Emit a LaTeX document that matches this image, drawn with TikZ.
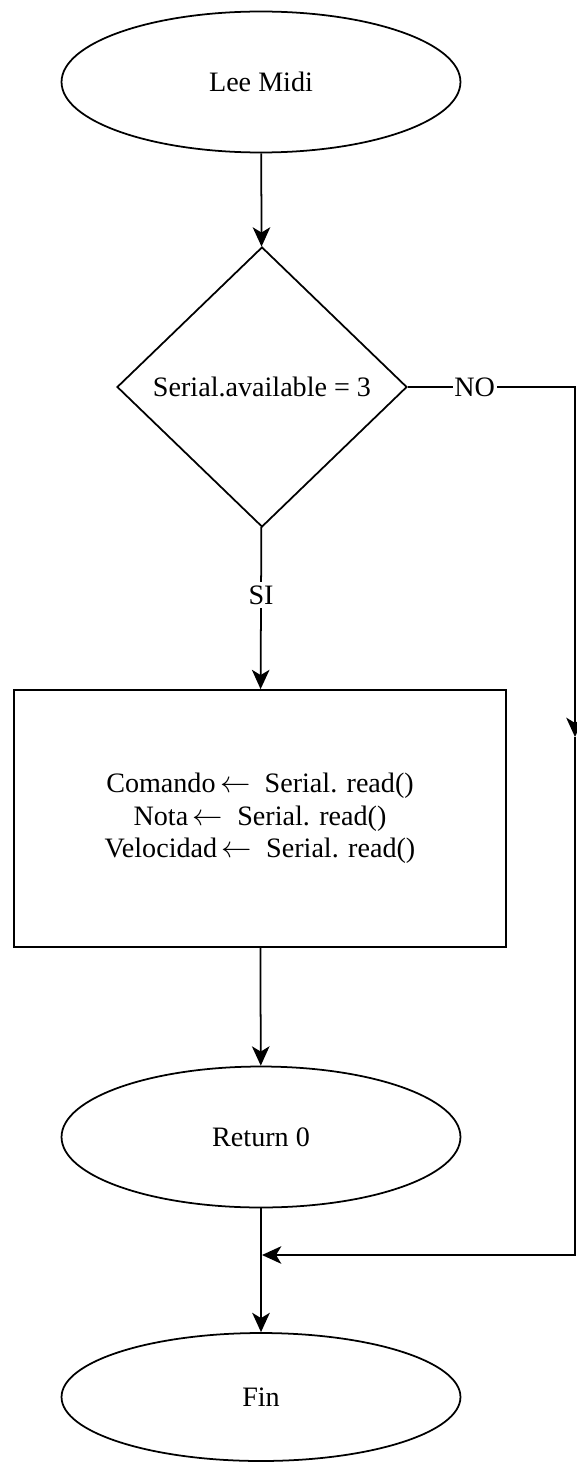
\documentclass[tikz,border=0pt]{standalone}
\usepackage{fontspec}
\setmainfont{Liberation Serif}
\usetikzlibrary{shapes.geometric,arrows.meta}

\begin{document}
\begin{tikzpicture}[x=0.02cm, y=-0.02cm, >={Stealth[length=11pt,width=10pt,inset=3pt]}, line width=1pt,
    font=\fontsize{16}{18.5}\selectfont]
    \useasboundingbox (0,0) rectangle (577,1463);
    % start
    \node[draw, ellipse, minimum width=7.98cm, minimum height=2.82cm] (S) at (261,82) {Lee Midi};
    % condition
    \node[draw, diamond, aspect=1.04, inner sep=0pt, minimum width=5.8cm, minimum height=5.6cm] (D) at (262,387) {Serial.available = 3};
    % reading
    \node[draw, align=center, minimum width=9.84cm, minimum height=5.14cm] (P) at (260,818.5)
        {Comando\,$\leftarrow$\ \ Serial. read()\\ Nota\,$\leftarrow$\ \ Serial. read()\\ Velocidad\,$\leftarrow$\ \ Serial. read()};
    % return
    \node[draw, ellipse, minimum width=7.98cm, minimum height=2.82cm] (R) at (261,1137) {Return 0};
    % end
    \node[draw, ellipse, minimum width=7.98cm, minimum height=2.56cm] (F) at (261,1397) {Fin};
    % bypass positions
    \coordinate (N1) at (575,387);
    \coordinate (N2) at (575,737);
    \coordinate (J) at (262,1255);

    % arrows
    \draw[->] (S) -- (D);
    \draw[->] (D) -- node[pos=.42, fill=white, inner sep=2pt] {SI} (P);
    \draw[->] (P) -- (R);
    \draw[->] (R) -- (F);
    \draw[->] (D.east) -- node[pos=.4, fill=white, inner sep=1pt] {NO} (N1) -- (N2);
    \draw[->] (N2) |- (J);
\end{tikzpicture}
\end{document}
